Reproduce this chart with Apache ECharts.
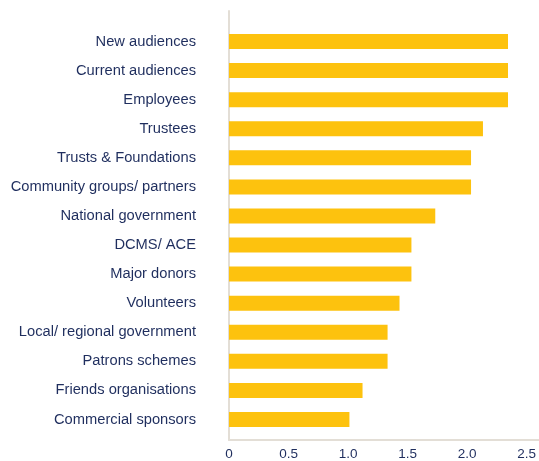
<!DOCTYPE html>
<html>
<head>
<meta charset="utf-8">
<script src="https://cdn.jsdelivr.net/npm/echarts@6/dist/echarts.min.js"></script>
<style>
  html, body { margin: 0; padding: 0; background: #ffffff; }
  #chart { width: 539px; height: 461px; }
</style>
</head>
<body>
<div id="chart"></div>
<script>
// Stakeholder groups, top to bottom
const categories = [
  'New audiences',
  'Current audiences',
  'Employees',
  'Trustees',
  'Trusts & Foundations',
  'Community groups/ partners',
  'National government',
  'DCMS/ ACE',
  'Major donors',
  'Volunteers',
  'Local/ regional government',
  'Patrons schemes',
  'Friends organisations',
  'Commercial sponsors'
];

// Mean score per group
const values = [2.34, 2.34, 2.34, 2.13, 2.03, 2.03, 1.73, 1.53, 1.53, 1.43, 1.33, 1.33, 1.12, 1.01];

// Value axis ticks
const tickValues = [0, 0.5, 1.0, 1.5, 2.0, 2.5];
const tickLabels = ['0', '0.5', '1.0', '1.5', '2.0', '2.5'];

const NAVY = '#1f2e5e';
const AXIS = '#e3ded6';
const BAR = '#fdc20e';
const FONT = '"Liberation Sans", Arial, sans-serif';

const chart = echarts.init(document.getElementById('chart'), null, { renderer: 'canvas' });

chart.setOption({
  animation: false,
  backgroundColor: '#ffffff',
  grid: [
    // frame: axis lines and value labels
    { left: 229, right: 0, top: 11, bottom: 17.5, containLabel: false },
    // bars and category labels
    { left: 229, right: 0, top: 27, bottom: 27, containLabel: false }
  ],
  xAxis: [
    {
      gridIndex: 0,
      type: 'value',
      min: 0,
      max: 2.6,
      interval: 0.5,
      axisLine: { show: true, lineStyle: { color: AXIS, width: 2 } },
      axisTick: { show: false },
      splitLine: { show: false },
      axisLabel: {
        showMaxLabel: false,
        color: NAVY,
        fontFamily: FONT,
        fontSize: 13.5,
        margin: 7,
        formatter: function (v) {
          const i = tickValues.findIndex(function (t) { return Math.abs(t - v) < 1e-9; });
          return i >= 0 ? tickLabels[i] : '';
        }
      }
    },
    {
      gridIndex: 1,
      type: 'value',
      min: 0,
      max: 2.6,
      show: false
    }
  ],
  yAxis: [
    {
      gridIndex: 0,
      type: 'value',
      min: 0,
      max: 1,
      axisLine: { show: true, lineStyle: { color: AXIS, width: 2 } },
      axisTick: { show: false },
      axisLabel: { show: false },
      splitLine: { show: false }
    },
    {
      gridIndex: 1,
      type: 'category',
      data: categories,
      inverse: true,
      axisLine: { show: false },
      axisTick: { show: false },
      splitLine: { show: false },
      axisLabel: {
        color: NAVY,
        fontFamily: FONT,
        fontSize: 14.7,
        margin: 33
      }
    }
  ],
  series: [
    {
      type: 'bar',
      xAxisIndex: 1,
      yAxisIndex: 1,
      data: values,
      barWidth: 15,
      itemStyle: { color: BAR },
      z: 3
    }
  ]
});
</script>
</body>
</html>
